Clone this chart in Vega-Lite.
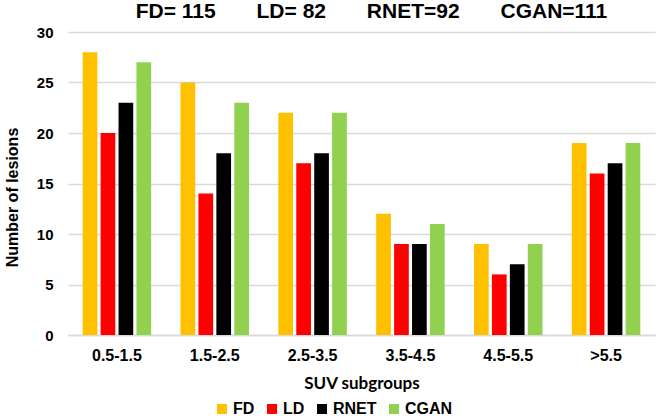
{
  "$schema": "https://vega.github.io/schema/vega-lite/v6.json",
  "width": 587,
  "height": 303,
  "autosize": "none",
  "padding": {"left": 68, "top": 32, "right": 2, "bottom": 81},
  "background": "white",
  "config": {
    "font": "Liberation Sans",
    "view": {"stroke": null}
  },
  "title": {
    "text": "FD= 115\u00a0\u00a0\u00a0\u00a0\u00a0\u00a0\u00a0LD= 82\u00a0\u00a0\u00a0\u00a0\u00a0\u00a0\u00a0RNET=92\u00a0\u00a0\u00a0\u00a0\u00a0\u00a0\u00a0CGAN=111",
    "fontSize": 21,
    "fontWeight": "bold",
    "color": "#000000",
    "anchor": "middle",
    "offset": 0,
    "dy": -3,
    "dx": 10
  },
  "data": {
    "values": [
      {"group": "0.5-1.5", "model": "FD", "count": 28},
      {"group": "0.5-1.5", "model": "LD", "count": 20},
      {"group": "0.5-1.5", "model": "RNET", "count": 23},
      {"group": "0.5-1.5", "model": "CGAN", "count": 27},
      {"group": "1.5-2.5", "model": "FD", "count": 25},
      {"group": "1.5-2.5", "model": "LD", "count": 14},
      {"group": "1.5-2.5", "model": "RNET", "count": 18},
      {"group": "1.5-2.5", "model": "CGAN", "count": 23},
      {"group": "2.5-3.5", "model": "FD", "count": 22},
      {"group": "2.5-3.5", "model": "LD", "count": 17},
      {"group": "2.5-3.5", "model": "RNET", "count": 18},
      {"group": "2.5-3.5", "model": "CGAN", "count": 22},
      {"group": "3.5-4.5", "model": "FD", "count": 12},
      {"group": "3.5-4.5", "model": "LD", "count": 9},
      {"group": "3.5-4.5", "model": "RNET", "count": 9},
      {"group": "3.5-4.5", "model": "CGAN", "count": 11},
      {"group": "4.5-5.5", "model": "FD", "count": 9},
      {"group": "4.5-5.5", "model": "LD", "count": 6},
      {"group": "4.5-5.5", "model": "RNET", "count": 7},
      {"group": "4.5-5.5", "model": "CGAN", "count": 9},
      {"group": ">5.5", "model": "FD", "count": 19},
      {"group": ">5.5", "model": "LD", "count": 16},
      {"group": ">5.5", "model": "RNET", "count": 17},
      {"group": ">5.5", "model": "CGAN", "count": 19}
    ]
  },
  "mark": {"type": "bar"},
  "encoding": {
    "x": {
      "field": "group",
      "type": "nominal",
      "sort": null,
      "scale": {"paddingInner": 0.3, "paddingOuter": 0.15},
      "axis": {
        "title": "SUV subgroups",
        "titleFont": "Lato",
        "titleFontSize": 17,
        "titleFontWeight": "bold",
        "titleColor": "#000000",
        "titlePadding": 12,
        "labelAngle": 0,
        "labelFontSize": 16,
        "labelFontWeight": "bold",
        "labelColor": "#000000",
        "labelPadding": 12,
        "ticks": false,
        "domainColor": "#D9D9D9",
        "domainWidth": 1.5
      }
    },
    "xOffset": {
      "field": "model",
      "type": "nominal",
      "sort": ["FD", "LD", "RNET", "CGAN"],
      "scale": {"paddingInner": 0.18}
    },
    "y": {
      "field": "count",
      "type": "quantitative",
      "scale": {"domain": [0, 30]},
      "axis": {
        "title": "Number of lesions",
        "titleFontSize": 16,
        "titleFontWeight": "bold",
        "titleColor": "#000000",
        "titlePadding": 16,
        "titleY": 165,
        "values": [0, 5, 10, 15, 20, 25, 30],
        "labelFontSize": 15,
        "labelFontWeight": "bold",
        "labelColor": "#000000",
        "labelPadding": 15,
        "ticks": false,
        "domain": false,
        "gridColor": "#D9D9D9",
        "gridWidth": 1.5
      }
    },
    "color": {
      "field": "model",
      "type": "nominal",
      "sort": ["FD", "LD", "RNET", "CGAN"],
      "scale": {
        "domain": ["FD", "LD", "RNET", "CGAN"],
        "range": ["#FFC000", "#FF0000", "#000000", "#92D050"]
      },
      "legend": {
        "title": null,
        "orient": "none",
        "direction": "horizontal",
        "legendX": 146,
        "legendY": 369,
        "symbolType": "square",
        "symbolSize": 100,
        "symbolStrokeWidth": 0,
        "labelFontSize": 16,
        "labelFontWeight": "bold",
        "labelColor": "#000000",
        "labelOffset": 3,
        "columnPadding": 9
      }
    }
  }
}
